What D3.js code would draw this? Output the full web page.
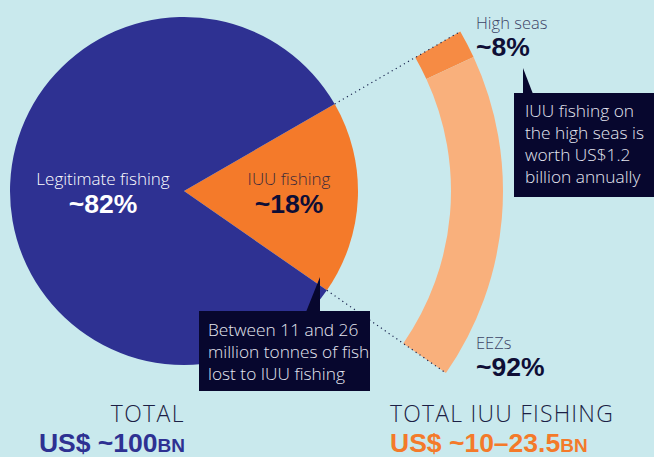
<!DOCTYPE html>
<html>
<head>
<meta charset="utf-8">
<script src="https://cdn.jsdelivr.net/npm/d3@7"></script>
<style>
  body { margin: 0; background: #c9e9ed; }
  svg { display: block; }
  .thin { font-family: "Open Sans", "Liberation Sans", sans-serif; font-weight: 300; }
  .bold { font-family: "Liberation Sans", Arial, sans-serif; font-weight: 700; }
</style>
</head>
<body>
<svg id="chart" width="654" height="457"></svg>
<script>
// main split of the fishing catch value
const mainCats = ["IUU fishing", "Legitimate fishing"];
const mainVals = [18, 82];
// split of IUU fishing
const iuuCats = ["High seas", "EEZs"];
const iuuVals = [8, 92];

const svg = d3.select("#chart");
const cx = 184, cy = 191;
const R = 174, rIn = 267, rOut = 319;
const a0 = Math.PI / 3; // orange slice starts at 60deg from 12 o'clock

const colors = {
  "IUU fishing": "#f47a2a",
  "Legitimate fishing": "#2e3192",
  "High seas": "#f68b44",
  "EEZs": "#f9b07c"
};

const g = svg.append("g").attr("transform", `translate(${cx},${cy})`);

// main pie
const pie = d3.pie().sort(null).startAngle(a0).endAngle(a0 + 2 * Math.PI);
const mainData = pie(mainVals).map((d, i) => ({ ...d, cat: mainCats[i] }));
const arc = d3.arc().innerRadius(0).outerRadius(R);
g.selectAll("path.main").data(mainData).join("path")
  .attr("class", "main")
  .attr("d", arc)
  .attr("fill", d => colors[d.cat]);

// outer breakdown ring, spanning the same angle as the IUU slice
const iuuSlice = mainData[0];
const pie2 = d3.pie().sort(null).startAngle(iuuSlice.startAngle).endAngle(iuuSlice.endAngle);
const ringData = pie2(iuuVals).map((d, i) => ({ ...d, cat: iuuCats[i] }));
const ring = d3.arc().innerRadius(rIn).outerRadius(rOut);
g.selectAll("path.ring").data(ringData).join("path")
  .attr("class", "ring")
  .attr("d", ring)
  .attr("fill", d => colors[d.cat]);

// dotted connector lines (radial)
[iuuSlice.startAngle, iuuSlice.endAngle].forEach(a => {
  const s = Math.sin(a), c = -Math.cos(a);
  g.append("line")
    .attr("x1", s * R).attr("y1", c * R)
    .attr("x2", s * rOut).attr("y2", c * rOut)
    .attr("stroke", "#1b2550")
    .attr("stroke-width", 1.2)
    .attr("stroke-dasharray", "1.2,3.5");
});

// slice labels
const lab = (x, y, txt, cls, size, fill, anchor) =>
  svg.append("text").attr("class", cls).attr("x", x).attr("y", y)
    .attr("font-size", size).attr("fill", fill)
    .attr("text-anchor", anchor || "middle").text(txt);

lab(103, 185, "Legitimate fishing", "thin", 17, "#ffffff");
lab(103, 213, "~82%", "bold", 26.5, "#ffffff");
lab(289, 185, "IUU fishing", "thin", 17, "#3b2a3a");
lab(289, 213, "~18%", "bold", 26.5, "#0e0e36");

lab(476, 29, "High seas", "thin", 16.5, "#3d4466", "start");
lab(476, 56, "~8%", "bold", 26.5, "#0e0e36", "start");
lab(476, 349, "EEZs", "thin", 16.5, "#3d4466", "start");
lab(476, 376, "~92%", "bold", 26.5, "#0e0e36", "start");

// callout boxes
const boxFill = "#07072e";
function callout(x, y, w, h, ptr, lines, tx, ty) {
  svg.append("path").attr("d", d3.line()(ptr)).attr("fill", boxFill);
  svg.append("rect").attr("x", x).attr("y", y).attr("width", w).attr("height", h)
    .attr("fill", boxFill);
  lines.forEach((t, i) => lab(tx, ty + i * 22, t, "thin", 17.3, "#e4e6f0", "start"));
}
callout(514, 93, 140, 104, [[523, 68], [523, 94], [533, 94]],
  ["IUU fishing on", "the high seas is", "worth US$1.2", "billion annually"], 525, 117);
callout(199, 311, 171, 80, [[320, 277], [306, 312], [320, 312]],
  ["Between 11 and 26", "million tonnes of fish", "lost to IUU fishing"], 208, 336);

// totals
lab(185, 422, "TOTAL", "thin", 23, "#1c1f45", "end").attr("letter-spacing", 1.4);
const t1 = svg.append("text").attr("class", "bold").attr("x", 185).attr("y", 452)
  .attr("text-anchor", "end").attr("fill", "#2e3192").attr("font-size", 26.5);
t1.append("tspan").text("US$ ~100");
t1.append("tspan").attr("font-size", 19).text("BN");

lab(390, 422, "TOTAL IUU FISHING", "thin", 23, "#1c1f45", "start").attr("letter-spacing", 1.2);
const t2 = svg.append("text").attr("class", "bold").attr("x", 390).attr("y", 452)
  .attr("fill", "#f47a2a").attr("font-size", 26.5);
t2.append("tspan").text("US$ ~10–23.5");
t2.append("tspan").attr("font-size", 19).text("BN");
</script>
</body>
</html>
